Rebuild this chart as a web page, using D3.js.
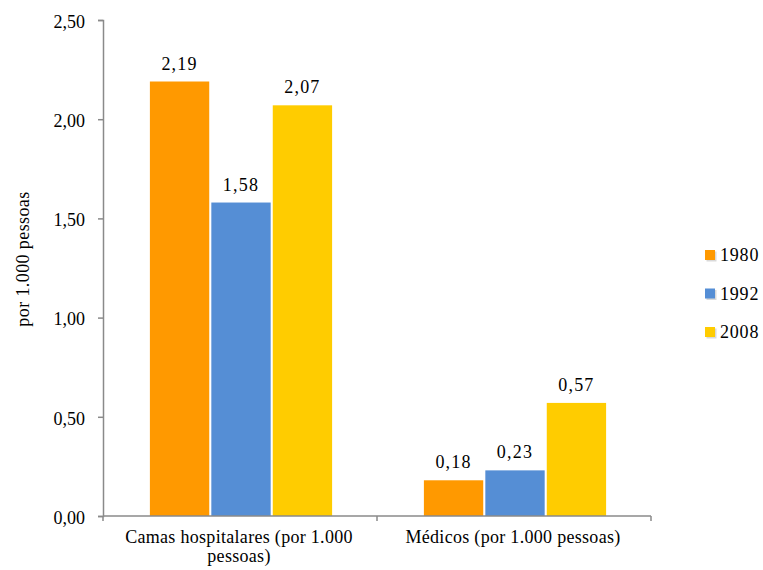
<!DOCTYPE html>
<html>
<head>
<meta charset="utf-8">
<script src="https://cdn.jsdelivr.net/npm/d3@7"></script>
<style>
  body { margin: 0; background: #fff; }
</style>
</head>
<body>
<svg id="chart" width="763" height="570"></svg>
<script>
// Indicator groups and the years compared
const categories = ["Camas hospitalares (por 1.000 pessoas)", "Médicos (por 1.000 pessoas)"];
const categoryLines = [["Camas hospitalares (por 1.000", "pessoas)"], ["Médicos (por 1.000 pessoas)"]];
const years = ["1980", "1992", "2008"];
const values1980 = [2.19, 0.18];
const values1992 = [1.58, 0.23];
const values2008 = [2.07, 0.57];
const yTicks = [0, 0.5, 1.0, 1.5, 2.0, 2.5];
const colors = ["#FF9900", "#558ED5", "#FFCC00"];

const seriesValues = [values1980, values1992, values2008];
const fmt = v => d3.format(".2f")(v).replace(".", ",");
const serif = "'Liberation Serif', 'Times New Roman', Tinos, serif";
const axisGrey = "#8a8a8a";

const svg = d3.select("#chart");
const margin = { left: 103, right: 112, top: 20, bottom: 54 };
const W = 763, H = 570;
const plotW = W - margin.left - margin.right;
const plotH = H - margin.top - margin.bottom;

const g = svg.append("g").attr("transform", `translate(${margin.left},${margin.top})`);

const x0 = d3.scaleBand().domain(categories).range([0, plotW]).paddingInner(0).paddingOuter(0);
const x1 = d3.scaleBand().domain(years).range([0, x0.bandwidth() * 0.665]).paddingInner(0.034);
const y = d3.scaleLinear().domain([0, 2.5]).range([plotH, 0]);

// bars with value labels
const groupOffset = (x0.bandwidth() - x1.range()[1]) / 2;
categories.forEach((cat, ci) => {
  const grp = g.append("g").attr("transform", `translate(${x0(cat) + groupOffset + 1},0)`);
  years.forEach((yr, si) => {
    const v = seriesValues[si][ci];
    grp.append("rect")
      .attr("x", x1(yr))
      .attr("y", y(v))
      .attr("width", x1.bandwidth())
      .attr("height", y(0) - y(v))
      .attr("fill", colors[si]);
    grp.append("text")
      .attr("x", x1(yr) + x1.bandwidth() / 2)
      .attr("y", y(v) - 12)
      .attr("text-anchor", "middle")
      .attr("font-size", 18)
      .attr("letter-spacing", 1.2)
      .attr("font-family", serif)
      .attr("fill", "#000")
      .text(fmt(v));
  });
});

// y axis
const yAxis = g.append("g")
  .call(d3.axisLeft(y).tickValues(yTicks).tickFormat(fmt).tickSize(5).tickPadding(13))
  .attr("font-family", serif);
yAxis.select(".domain").attr("stroke", axisGrey).attr("stroke-width", 1.5);
yAxis.selectAll(".tick line").attr("stroke", axisGrey).attr("stroke-width", 1.5);
yAxis.selectAll(".tick text").attr("font-size", 18).attr("fill", "#000").attr("dy", "0.4em");

// x axis
const xAxisG = g.append("g").attr("transform", `translate(0,${plotH})`);
xAxisG.append("line").attr("x1", 0).attr("x2", plotW).attr("stroke", axisGrey).attr("stroke-width", 1.5);
[0, x0.bandwidth(), plotW].forEach(px => {
  xAxisG.append("line").attr("x1", px).attr("x2", px).attr("y1", 0).attr("y2", 5)
    .attr("stroke", axisGrey).attr("stroke-width", 1.5);
});
categories.forEach((cat, ci) => {
  const cx = x0(cat) + x0.bandwidth() / 2 - 1;
  const t = xAxisG.append("text")
    .attr("x", cx)
    .attr("y", 27)
    .attr("text-anchor", "middle")
    .attr("font-size", 18)
    .attr("letter-spacing", 0.3)
    .attr("font-family", serif)
    .attr("fill", "#000");
  categoryLines[ci].forEach((line, li) => {
    t.append("tspan").attr("x", cx).attr("dy", li === 0 ? 0 : 19).text(line);
  });
});

// y axis title
svg.append("text")
  .attr("transform", `translate(29,259) rotate(-90)`)
  .attr("text-anchor", "middle")
  .attr("font-size", 18)
  .attr("letter-spacing", 0.4)
  .attr("font-family", serif)
  .attr("fill", "#000")
  .text("por 1.000 pessoas");

// legend
const legend = svg.append("g").attr("transform", "translate(705,261)");
years.forEach((yr, i) => {
  const row = legend.append("g").attr("transform", `translate(0,${i * 38.5})`);
  row.append("rect").attr("x", 1.5).attr("y", -9.5).attr("width", 10).attr("height", 10).attr("fill", "#d9d9d9");
  row.append("rect").attr("x", 0).attr("y", -11).attr("width", 10).attr("height", 10).attr("fill", colors[i]);
  row.append("text").attr("x", 15).attr("y", 0).attr("font-size", 18).attr("letter-spacing", 0.8)
    .attr("font-family", serif).attr("fill", "#000").text(yr);
});
</script>
</body>
</html>
